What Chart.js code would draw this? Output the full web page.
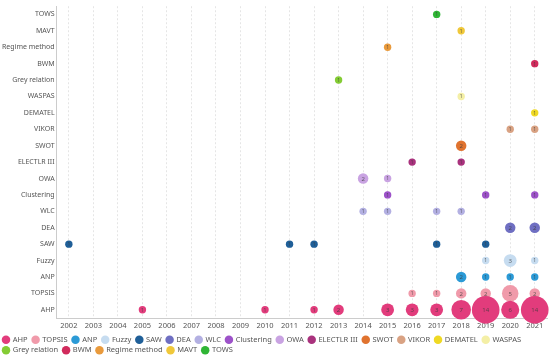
<!DOCTYPE html>
<html>
<head>
<meta charset="utf-8">
<script src="https://cdn.jsdelivr.net/npm/chart.js@4/dist/chart.umd.min.js"></script>
<style>
html, body { margin: 0; padding: 0; background: #fff; }
#wrap { width: 550px; height: 359px; position: relative; }
</style>
</head>
<body>
<div id="wrap"><canvas id="bubbleChart"></canvas></div>
<script>

/* DATA */

const years = ["2002","2003","2004","2005","2006","2007","2008","2009","2010","2011",
"2012","2013","2014","2015","2016","2017","2018","2019","2020","2021"];

// counts per year, aligned with years (2002 .. 2021)
const ahp        = [0,0,0,1,0,0,0,0,1,0,1,2,0,3,3,3,7,14,6,14];
const topsis     = [0,0,0,0,0,0,0,0,0,0,0,0,0,0,1,1,2,2,5,2];
const anp        = [0,0,0,0,0,0,0,0,0,0,0,0,0,0,0,0,2,1,1,1];
const fuzzy      = [0,0,0,0,0,0,0,0,0,0,0,0,0,0,0,0,0,1,3,1];
const saw        = [1,0,0,0,0,0,0,0,0,1,1,0,0,0,0,1,0,1,0,0];
const dea        = [0,0,0,0,0,0,0,0,0,0,0,0,0,0,0,0,0,0,2,2];
const wlc        = [0,0,0,0,0,0,0,0,0,0,0,0,1,1,0,1,1,0,0,0];
const clustering = [0,0,0,0,0,0,0,0,0,0,0,0,0,1,0,0,0,1,0,1];
const owa        = [0,0,0,0,0,0,0,0,0,0,0,0,2,1,0,0,0,0,0,0];
const electre    = [0,0,0,0,0,0,0,0,0,0,0,0,0,0,1,0,1,0,0,0];
const swot       = [0,0,0,0,0,0,0,0,0,0,0,0,0,0,0,0,2,0,0,0];
const vikor      = [0,0,0,0,0,0,0,0,0,0,0,0,0,0,0,0,0,0,1,1];
const dematel    = [0,0,0,0,0,0,0,0,0,0,0,0,0,0,0,0,0,0,0,1];
const waspas     = [0,0,0,0,0,0,0,0,0,0,0,0,0,0,0,0,1,0,0,0];
const greyRel    = [0,0,0,0,0,0,0,0,0,0,0,1,0,0,0,0,0,0,0,0];
const bwm        = [0,0,0,0,0,0,0,0,0,0,0,0,0,0,0,0,0,0,0,1];
const regime     = [0,0,0,0,0,0,0,0,0,0,0,0,0,1,0,0,0,0,0,0];
const mavt       = [0,0,0,0,0,0,0,0,0,0,0,0,0,0,0,0,1,0,0,0];
const tows       = [0,0,0,0,0,0,0,0,0,0,0,0,0,0,0,1,0,0,0,0];

const methods = ["AHP","TOPSIS","ANP","Fuzzy","SAW","DEA","WLC","Clustering","OWA",
"ELECTLR III","SWOT","VIKOR","DEMATEL","WASPAS","Grey relation","BWM",
"Regime method","MAVT","TOWS"];

const counts = [ahp, topsis, anp, fuzzy, saw, dea, wlc, clustering, owa,
electre, swot, vikor, dematel, waspas, greyRel, bwm, regime, mavt, tows];

const colors = ["#e23c7c","#f09aaa","#2b9ad6","#c6dcf0","#1f5f98","#6f6fc2","#b3b0e2",
"#9d52c9","#c9a3e2","#a9327d","#e0732f","#d9a283","#efd924","#f4efa6",
"#84cc34","#d12b5c","#e99a3c","#f0c83a","#2fb535"];

const FONT = "'Noto Sans', sans-serif";

/* BUILD DATASETS */

const datasets = methods.map((name, i) => {

const points = [];

counts[i].forEach((v, j) => {
if (v > 0) points.push({ x: years[j], y: name, v: v });
});

return {
label: name,
data: points,
backgroundColor: colors[i],
borderColor: colors[i],
borderWidth: 0,
hoverBorderWidth: 0,
radius: ctx => 3.7 * Math.sqrt(ctx.raw ? ctx.raw.v : 1),
pointStyle: "circle"
};

});

/* COUNT LABELS INSIDE BUBBLES */

const bubbleLabels = {
id: "bubbleLabels",
afterDatasetsDraw(chart) {
const c = chart.ctx;
c.save();
c.textAlign = "center";
c.textBaseline = "middle";
c.fillStyle = "rgba(60,60,60,0.75)";
chart.data.datasets.forEach((ds, i) => {
chart.getDatasetMeta(i).data.forEach((el, k) => {
const v = ds.data[k].v;
c.font = (v > 1 ? "6px " : "5px ") + FONT;
c.fillText(String(v), el.x, el.y + 0.5);
});
});
c.restore();
}
};

/* CHART */

const ctx = document.getElementById("bubbleChart");

new Chart(ctx, {

type: "bubble",

data: { datasets: datasets },

plugins: [bubbleLabels],

options: {

responsive: true,
maintainAspectRatio: false,
animation: false,

layout: {
autoPadding: false,
padding: { left: 0, right: 3, top: 3, bottom: 0 }
},

plugins: {
tooltip: { enabled: false },
legend: {
display: true,
position: "bottom",
align: "start",
maxHeight: 26,
labels: {
usePointStyle: true,
pointStyle: "circle",
boxWidth: 6,
boxHeight: 6,
padding: 3,
color: "#555",
font: { family: FONT, size: 7.5 },
// a trailing space keeps the items apart while rows stay tight
generateLabels: chart =>
Chart.defaults.plugins.legend.labels.generateLabels(chart)
.map(item => Object.assign(item, { text: item.text + " " }))
}
}
},

scales: {

x: {
type: "category",
labels: years,
offset: true,
grid: {
display: true,
offset: false,
color: "rgba(0,0,0,0.1)",
drawTicks: false
},
border: { display: true, color: "#ccc", dash: [2, 2] },
ticks: {
color: "#555",
padding: 3,
autoSkip: false,
maxRotation: 0,
font: { family: FONT, size: 7.5 }
}
},

y: {
type: "category",
labels: methods.slice().reverse(),
offset: true,
grid: { display: false, drawTicks: false },
border: { display: true, color: "#ccc" },
ticks: {
color: "#555",
padding: 2,
autoSkip: false,
font: { family: FONT, size: 7 }
}
}

}

}

});

</script>
</body>
</html>
